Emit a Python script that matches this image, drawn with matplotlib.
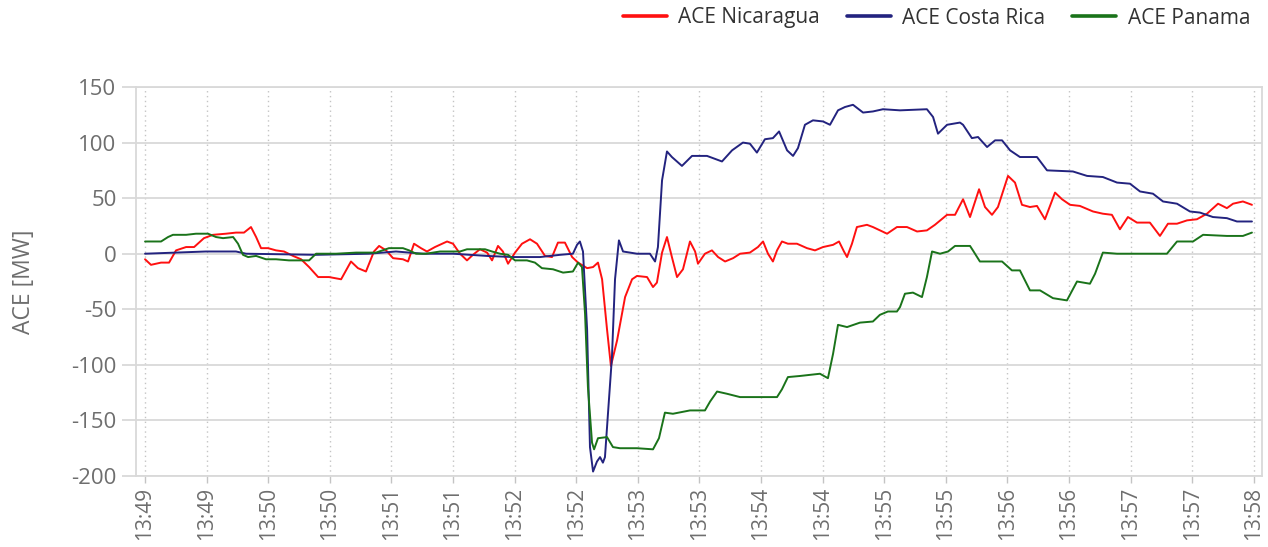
import matplotlib
matplotlib.use('Agg')
import matplotlib.pyplot as plt
import numpy as np

plt.rcParams['font.family'] = ['Open Sans', 'DejaVu Sans']

# ---- data (time in seconds after 13:49:00, values in MW) ----
nic_t = [0, 2.9, 7.8, 11.7, 15.1, 20.0, 23.9, 28.7, 33.1, 39.4,
         44.3, 48.2, 51.6, 54.1, 56.5, 59.9, 63.8, 67.7, 72.1, 76.0,
         79.9, 84.3, 89.6, 95.5, 97.9, 100.3, 103.7, 107.6, 111.5, 114.0,
         117.4, 120.8, 125.6, 128.1, 131.0, 134.4, 137.3, 141.2, 147.1, 150.0,
         153.4, 156.8, 159.7, 163.1, 166.6, 169.0, 171.9, 174.3, 176.8, 180.2,
         183.6, 187.5, 190.9, 194.8, 198.2, 201.1, 204.5, 208.0, 210.9, 215.3,
         218.2, 220.6, 222.6, 225.0, 226.9, 229.9, 233.8, 237.2, 239.6, 244.5,
         247.4, 249.3, 251.8, 254.2, 256.6, 259.1, 262.0, 265.4, 267.9, 269.3,
         272.7, 276.1, 279.1, 282.5, 286.4, 289.8, 294.6, 298.5, 301.0, 303.4,
         305.8, 307.8, 310.2, 313.1, 317.5, 322.4, 326.3, 330.2, 335.1, 338.0,
         340.4, 341.9, 344.3, 346.7, 351.6, 354.5, 361.4, 366.2, 371.1, 376.0,
         380.8, 384.7, 390.6, 394.5, 398.4, 401.8, 406.2, 409.1, 412.5, 415.4,
         420.3, 423.7, 427.1, 431.0, 434.4, 438.3, 443.2, 446.6, 450.5, 455.3,
         461.7, 466.5, 470.9, 474.8, 478.7, 483.1, 489.4, 494.3, 498.2, 502.6,
         507.5, 512.3, 517.2, 522.6, 526.9, 529.9, 534.7, 539.1]
nic_v = [-5, -10, -8, -8, 3, 6, 6, 14, 17, 18,
         19, 19, 24, 15, 5, 5, 3, 2, -2, -5,
         -12, -21, -21, -23, -15, -7, -13, -16, 2, 7,
         3, -4, -5, -7, 9, 5, 2, 6, 11, 9,
         0, -6, -1, 4, 1, -6, 7, 2, -9, 1,
         9, 13, 9, -2, -3, 10, 10, -3, -8, -13,
         -12, -8, -23, -68, -101, -78, -39, -23, -20, -21,
         -30, -26, 1, 15, -3, -21, -14, 11, 2, -9,
         0, 3, -3, -7, -4, 0, 1, 6, 11, 0,
         -7, 3, 11, 9, 9, 5, 3, 6, 8, 11,
         2, -3, 9, 24, 26, 24, 18, 24, 24, 20,
         21, 26, 35, 35, 49, 33, 58, 42, 35, 42,
         70, 64, 44, 42, 43, 31, 55, 49, 44, 43,
         38, 36, 35, 22, 33, 28, 28, 16, 27, 27,
         30, 31, 36, 45, 41, 45, 47, 44]

cr_t = [0, 29.7, 44.3, 49.2, 83.3, 109.1, 122.2, 135.4, 150.0, 166.6,
        179.2, 192.4, 202.1, 208.4, 210.4, 211.8, 213.3, 215.3, 216.7, 218.2,
        220.1, 221.6, 223.0, 224.0, 225.5, 227.4, 228.9, 230.8, 232.8, 239.6,
        245.9, 248.4, 249.8, 251.8, 254.2, 256.6, 261.5, 266.4, 273.7, 281.0,
        285.9, 291.2, 294.6, 298.0, 301.9, 305.8, 308.8, 312.7, 315.6, 318.0,
        321.4, 325.3, 330.2, 333.6, 337.5, 340.9, 344.8, 349.7, 354.5, 359.4,
        367.7, 380.8, 383.8, 386.2, 390.6, 396.9, 398.4, 402.7, 405.7, 410.1,
        414.0, 417.4, 421.3, 426.1, 434.4, 439.3, 451.9, 458.8, 466.5, 473.4,
        479.7, 484.6, 490.9, 495.8, 502.6, 508.9, 513.8, 520.1, 526.9, 531.8,
        539.1]
cr_v = [0, 2, 2, 0, -1, 0, 2, 0, 0, -2,
        -3, -3, -1, 0, 8, 11, 2, -68, -174, -196,
        -187, -183, -188, -183, -143, -93, -23, 12, 2, 0,
        0, -7, 6, 66, 92, 87, 79, 88, 88, 83,
        93, 100, 99, 91, 103, 104, 110, 93, 88, 95,
        116, 120, 119, 116, 129, 132, 134, 127, 128, 130,
        129, 130, 123, 108, 116, 118, 116, 104, 105, 96,
        102, 102, 93, 87, 87, 75, 74, 70, 69, 64,
        63, 56, 54, 47, 45, 38, 37, 33, 32, 29,
        29]

pan_t = [0, 7.8, 11.2, 13.6, 20.0, 24.8, 30.7, 34.6, 38.0, 42.9,
         45.3, 47.7, 50.2, 54.1, 58.9, 63.8, 70.1, 79.9, 83.3, 93.0,
         102.8, 112.5, 118.8, 125.6, 128.6, 132.0, 136.8, 143.7, 153.4, 156.8,
         165.6, 169.0, 172.9, 176.8, 180.2, 186.0, 189.9, 193.3, 198.7, 203.6,
         208.4, 210.9, 212.8, 214.3, 215.7, 217.7, 218.7, 220.6, 225.0, 227.9,
         231.3, 239.6, 247.4, 250.3, 253.2, 257.1, 265.4, 272.7, 275.2, 278.6,
         283.4, 289.8, 307.8, 310.2, 313.1, 319.0, 328.7, 332.6, 335.1, 337.5,
         341.9, 348.2, 354.5, 357.9, 361.8, 366.2, 367.7, 370.1, 374.0, 378.4,
         380.8, 383.3, 387.2, 391.1, 394.5, 401.8, 403.2, 406.6, 417.4, 422.2,
         426.1, 431.0, 435.9, 442.2, 449.0, 453.9, 460.2, 462.7, 466.5, 473.4,
         497.7, 502.6, 510.4, 515.3, 526.9, 534.7, 539.1]
pan_v = [11, 11, 15, 17, 17, 18, 18, 15, 14, 15,
         9, -1, -3, -2, -5, -5, -6, -6, 0, 0,
         1, 1, 5, 5, 3, 0, 0, 2, 2, 4,
         4, 2, 0, -1, -6, -6, -8, -13, -14, -17,
         -16, -8, -12, -54, -120, -170, -176, -166, -165, -174,
         -175, -175, -176, -166, -143, -144, -141, -141, -133, -124,
         -126, -129, -129, -122, -111, -110, -108, -112, -90, -64,
         -66, -62, -61, -55, -52, -52, -48, -36, -35, -39,
         -21, 2, 0, 2, 7, 7, 3, -7, -7, -15,
         -15, -33, -33, -40, -42, -25, -27, -18, 1, 0,
         0, 11, 11, 17, 16, 16, 19]

series_names = ['ACE Nicaragua', 'ACE Costa Rica', 'ACE Panama']
series_colors = ['#ff1010', '#23237f', '#1a731a']

x_tick_pos = [0, 30, 60, 90, 120, 150, 180, 210, 240, 270,
              300, 330, 360, 390, 420, 450, 480, 510, 540]
x_tick_labels = ['13:49', '13:49', '13:50', '13:50', '13:51', '13:51', '13:52',
                 '13:52', '13:53', '13:53', '13:54', '13:54', '13:55', '13:55',
                 '13:56', '13:56', '13:57', '13:57', '13:58']
y_ticks = [-200, -150, -100, -50, 0, 50, 100, 150]

# ---- figure ----
W, H = 1268, 547
fig = plt.figure(figsize=(W / 100, H / 100), dpi=100)
ax = fig.add_axes([136 / W, 1 - 476 / H, (1262 - 136) / W, (476 - 87) / H])

grid_c = '#d9d9d9'
ax.set_xlim(-4.4, 544)
ax.set_ylim(-200, 150)
ax.set_yticks(y_ticks)
ax.set_yticklabels([str(v) for v in y_ticks])
ax.set_xticks(x_tick_pos)
ax.set_xticklabels(x_tick_labels, rotation=90)

ax.grid(axis='y', color=grid_c, lw=1.3, ls='-', zorder=0)
ax.grid(axis='x', color='#c4c4c4', lw=1.0, ls=(0, (1, 2.5)), zorder=0)
for s in ax.spines.values():
    s.set_color(grid_c)
    s.set_linewidth(1.3)

ax.tick_params(axis='y', length=10, width=1.3, color=grid_c,
               labelcolor='#6e6e6e', labelsize=16, pad=4)
ax.tick_params(axis='x', length=5, width=1.0, color='#c4c4c4',
               labelcolor='#6e6e6e', labelsize=15, pad=3)

lines = []
for t, v, name, c in zip([nic_t, cr_t, pan_t], [nic_v, cr_v, pan_v],
                         series_names, series_colors):
    ln, = ax.plot(t, v, color=c, lw=1.4, label=name, zorder=3,
                  solid_joinstyle='round', solid_capstyle='round')
    lines.append(ln)

ax.set_ylabel('ACE [MW]', fontsize=16.5, color='#6e6e6e')
ax.yaxis.set_label_coords((36 - 136) / (1262 - 136), 0.5)

leg = fig.legend(handles=lines, loc='center right',
                 bbox_to_anchor=(1250 / W, 1 - 18 / H), ncol=3, frameon=False,
                 fontsize=15, handlelength=2.1, handletextpad=0.55,
                 columnspacing=1.3, borderaxespad=0, borderpad=0)
for l in leg.get_lines():
    l.set_linewidth(2.6)
for txt in leg.get_texts():
    txt.set_color('#333333')

fig.savefig('out.png', dpi=100)
